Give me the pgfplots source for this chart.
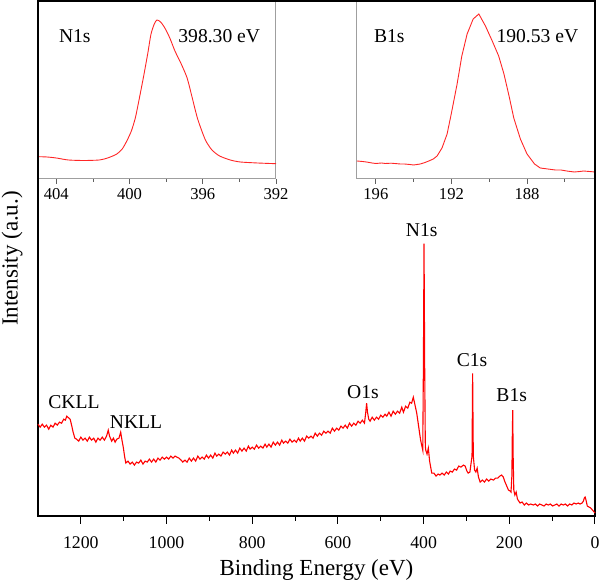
\documentclass[border=0pt]{standalone}
\usepackage{fontspec}
\setmainfont{Liberation Serif}
\usepackage{pgfplots}
\pgfplotsset{compat=1.18}
\begin{document}
\begin{tikzpicture}
\useasboundingbox (-19pt,-290.5pt) rectangle (281pt,0.5pt);
\pgfplotsset{
  /pgf/number format/assume math mode=true,
  /pgf/number format/1000 sep={},
}
% N1s inset
\begin{axis}[
  at={(0pt,0pt)}, anchor=north west,
  scale only axis, width=119pt, height=89pt,
  x dir=reverse, xmin=392, xmax=405, ymin=0, ymax=178,
  xtick={392,396,400,404}, xticklabels={392,396,400,404}, minor xtick={394,398,402},
  ytick=\empty, xtick pos=bottom, tick align=outside,
  major tick length=2.5pt, minor tick length=1.5pt,
  axis line style={gray!75, line width=0.5pt},
  every tick/.style={gray!75!black, line width=0.4pt},
  xticklabel style={font=\fontsize{8.3}{9}\selectfont, yshift=1.5pt},
  clip=false,
]
\addplot[red!85!white, line width=0.45pt, smooth, tension=0.4] coordinates {
(404.94,22.3)(404.5,22)(404,21)(403.34,19)(402.5,18.5)(401.65,19)(401.2,21)
(400.72,24.7)(400.4,30)(400.15,38)(399.9,48)(399.68,61.3)(399.45,82)(399.21,104.7)
(399.0,126)(398.83,144.7)(398.65,155)(398.5,159)(398.3,157)(398.08,151.3)
(397.8,141)(397.52,128)(397.2,116)(396.86,101.3)(396.6,83)(396.3,61.3)
(396.05,48)(395.83,38)(395.5,29)(395.08,23)(394.5,19)(393.95,17)(393,16)(392,15.3)
};
\node[font=\fontsize{9.8}{11}\selectfont] at (axis cs:402.99,143) {N1s};
\node[font=\fontsize{9.8}{11}\selectfont] at (axis cs:395.1,143) {398.30 eV};
\end{axis}
% B1s inset
\begin{axis}[
  at={(278.5pt,0pt)}, anchor=north east,
  scale only axis, width=119pt, height=89pt,
  x dir=reverse, xmin=184.4, xmax=197, ymin=0, ymax=178,
  xtick={188,192,196}, xticklabels={188,192,196}, minor xtick={186,190,194},
  ytick=\empty, xtick pos=bottom, tick align=outside,
  major tick length=2.5pt, minor tick length=1.5pt,
  axis line style={gray!75, line width=0.5pt},
  every tick/.style={gray!75!black, line width=0.4pt},
  xticklabel style={font=\fontsize{8.3}{9}\selectfont, yshift=1.5pt},
  clip=false,
]
\addplot[red!85!white, line width=0.45pt] coordinates {
(197,18)(196.7,17.5)(196.5,17)(196.2,16)(196,15.5)(195.7,16)(195.5,15.5)(195.2,15.8)(195,15.5)
(194.7,15)(194.5,15)(194.2,14.5)(194,14)(193.65,15)(193.4,16.5)(193.2,18)(192.96,20)(192.76,23)
(192.5,31)(192.23,45)(192.0,66)(191.7,95)(191.45,123)(191.17,145)(190.85,160)
(190.55,165)(190.2,153)(189.84,138)(189.5,123)(189.22,105)(188.95,83)(188.7,61)
(188.35,40)(188,25)(187.6,15)(187.3,11)(186.9,10)(186.5,9)(186.2,9)(185.9,8)(185.5,7)(185.2,7.5)(185,8)(184.7,7.5)(184.4,7)
};
\node[font=\fontsize{9.8}{11}\selectfont] at (axis cs:195.29,143) {B1s};
\node[font=\fontsize{9.8}{11}\selectfont] at (axis cs:187.45,143) {190.53 eV};
\end{axis}
% main survey
\begin{axis}[
  at={(0pt,0pt)}, anchor=north west,
  scale only axis, width=278.5pt, height=257.5pt,
  x dir=reverse, xmin=0, xmax=1300, ymin=0, ymax=516,
  xtick={0,200,400,600,800,1000,1200}, xticklabels={0,200,400,600,800,1000,1200},
  minor xtick={100,300,500,700,900,1100},
  ytick=\empty, xtick pos=bottom, tick align=outside,
  major tick length=4pt, minor tick length=2.5pt,
  axis line style={black, line width=0.6pt},
  every tick/.style={black, line width=0.5pt},
  xticklabel style={font=\fontsize{8.9}{10}\selectfont, yshift=-2.8pt},
  xlabel={Binding Energy (eV)},
  ylabel={Intensity (a.u.)},
  every axis x label/.style={at={(axis description cs:0.5,0)}, anchor=north, inner sep=0pt, yshift=-21.5pt, font=\fontsize{11.5}{13}\selectfont},
  every axis y label/.style={at={(axis description cs:-0.027,0.5)}, anchor=south, inner sep=0pt, rotate=90, font=\fontsize{11.5}{13}\selectfont},
  clip=false,
]
\addplot[red, line width=0.55pt] coordinates {
(1300,92)(1295,89)(1290,92)(1285,89)(1280,91)(1275,87)(1270,91)(1265,89)(1260,93)(1255,91)
(1250,94)(1245,93)(1240,97)(1236,96)(1233,100)(1229,98.5)(1225,97)(1221,90)(1218,84)(1214,78)
(1210,77)(1205,75)(1200,79)(1195,76)(1190,78)(1185,75)(1180,79)(1175,76)(1170,78)(1165,74)
(1160,78)(1155,76)(1150,79)(1145,76)(1140,80)(1136,86)(1133,80)(1128,75)(1124,78)(1120,74)
(1116,77)(1111,78)(1107,84)(1104,76)(1101,69)(1098,60)(1095,53)(1090,55)(1085,52)(1080,54)
(1075,51)(1070,54)(1065,53)(1060,56)(1055,52)(1050,55)(1045,54)(1040,57)(1035,54)(1030,57)
(1025,54)(1020,58)(1015,56)(1010,59)(1005,57)(1000,59)(995,57)(990,60)(985,58)(980,60)
(976,59)(971,58)(966,56)(962,54)(957,56)(952,54)(947,58)(942,55)(937,58)(932,55)
(927,60)(922,57)(917,59)(912,57)(907,61)(902,58)(897,61)(892,58)(887,63)(883,60)
(878,62)(873,60)(868,64)(863,62)(858,64)(853,61)(848,66)(844,63)(839,66)(834,63)
(829,68)(824,65)(819,68)(814,65)(809,70)(805,67)(800,69)(795,67)(790,71)(785,68)
(780,70)(775,68)(770,72)(766,69)(761,72)(756,69)(751,74)(746,71)(741,74)(736,71)
(731,76)(727,73)(722,75)(717,73)(712,77)(707,74)(702,76)(697,74)(692,78)(688,75)
(683,78)(678,75)(673,80)(668,78)(663,80)(658,78)(653,83)(648,80)(643,83)(638,81)
(633,85)(628,83)(623,85)(618,83)(613,88)(608,85)(603,88)(598,86)(593,90)(588,88)
(583,91)(578,88)(573,93)(568,90)(563,93)(558,91)(553,95)(548,93)(543,96)(538,93)
(535,104)(533,113)(531,104)(528,97)(525,95)(520,99)(515,96)(510,99)(505,97)(500,101)
(495,99)(490,102)(486,100)(481,104)(476,100)(471,105)(466,102)(461,105)(456,103)(451,109)
(447,104)(442,110)(437,108)(432,114)(428,113)(424,119)(420,111)(416,103)(412,91)(407,76)
(404,70)(402,66)(400.5,150)(399,273)(397.5,150)(396,70)(395,66)(392,62)(389,68)(386,55)
(381,43)(376,43)(371,40)(366,42)(362,41)(357,43)(352,41)(347,44)(342,42)(338,45)
(333,44)(328,47)(323,46)(318,50)(313,49)(307,51)(303,50)(299,45)(296,43)(292,44)
(287,60)(285.6,143)(284,60)(281,46)(278,44)(275,48)(272,39)(268,34)(263,36)(258,34)
(253,37)(248,35)(243,37)(237,36)(232,38)(227,38)(222,40)(218,41)(214,39)(210,34)
(206,30)(202,26)(198,25)(196,24)(194,40)(193,80)(192,106)(191,60)(189.5,26)(187,21)
(184,24)(181,17)(175,13)(170,14)(165,11)(160,13)(155,11)(150,12)(144,11)(139,12)
(134,10)(129,12)(124,11)(119,10)(114,12)(109,11)(104,12)(99,10)(94,11)(89,12)
(84,10)(79,12)(74,11)(69,12)(64,10)(59,12)(54,11)(49,13)(44,12)(39,13)
(35,12)(30,13)(27,15)(25,18)(23,19)(21,16)(18,10)(14,9)(10,8)(6,6)(2,4)(0,3)
};
\node[font=\fontsize{9.8}{11}\selectfont] at (axis cs:404.5,286) {N1s};
\node[font=\fontsize{9.8}{11}\selectfont] at (axis cs:287,156) {C1s};
\node[font=\fontsize{9.8}{11}\selectfont] at (axis cs:194.4,121) {B1s};
\node[font=\fontsize{9.8}{11}\selectfont] at (axis cs:541.5,124.3) {O1s};
\node[font=\fontsize{9.8}{11}\selectfont] at (axis cs:1216,114.3) {CKLL};
\node[font=\fontsize{9.8}{11}\selectfont] at (axis cs:1071.3,94.3) {NKLL};
\end{axis}
\end{tikzpicture}
\end{document}
